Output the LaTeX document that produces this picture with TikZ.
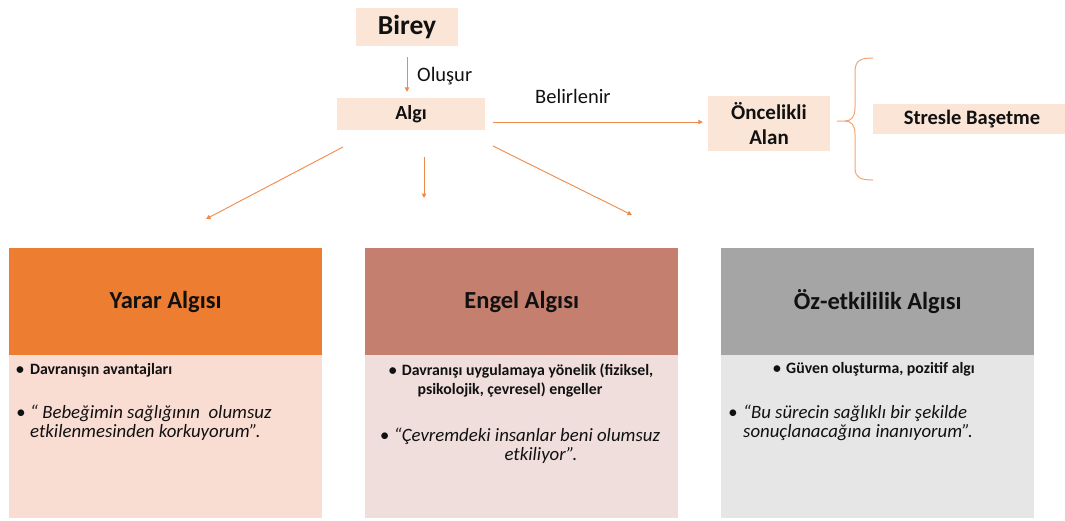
\documentclass[tikz,border=0pt]{standalone}
\usepackage{fontspec}
\setmainfont{Carlito}
\usetikzlibrary{arrows.meta}

\definecolor{peach}{HTML}{FBE5D6}
\definecolor{arrowc}{HTML}{F08A4B}
\definecolor{bracec}{HTML}{F2A673}
\definecolor{headA}{HTML}{ED7D31}
\definecolor{bodyA}{HTML}{F9DCD2}
\definecolor{headB}{HTML}{C47F6F}
\definecolor{bodyB}{HTML}{EFDEDB}
\definecolor{headC}{HTML}{A5A5A5}
\definecolor{bodyC}{HTML}{E6E6E6}
\definecolor{ink}{HTML}{111111}

% bullet followed by a fixed gap before the text
\newcommand\bulgap[1]{\makebox[#1][l]{\textbullet}}

\begin{document}
\begin{tikzpicture}[x=1pt,y=-1pt,
  every node/.style={text=ink},
  topbox/.style={fill=peach, draw=none, inner sep=0pt, align=center},
  arr/.style={draw=arrowc, line width=0.9pt, -{Triangle[length=4.5pt,width=4.5pt]}},
  head/.style={draw=none, inner sep=0pt, anchor=north west,
    minimum width=313pt, minimum height=107pt,
    font=\fontsize{24.5}{29}\selectfont\bfseries},
  body/.style={draw=none, inner sep=0pt, anchor=north west,
    minimum width=313pt, minimum height=163pt},
  pointtxt/.style={inner sep=0pt, font=\fontsize{15.8}{18}\selectfont\bfseries},
  quotetxt/.style={inner sep=0pt, align=left, font=\fontsize{18.8}{19}\selectfont\itshape},
  lbl/.style={inner sep=0pt, anchor=base west, font=\fontsize{20.5}{24}\selectfont}
]
\useasboundingbox[fill=white] (0,0) rectangle (1065,520);

% upper chain
\node[topbox, minimum width=102pt, minimum height=38pt,
      font=\fontsize{27.5}{32}\selectfont\bfseries] (birey) at (407,27) {Birey};
\node[topbox, minimum width=148pt, minimum height=32pt,
      font=\fontsize{20}{24}\selectfont\bfseries] (algi) at (411,114) {Algı};
\node[topbox, minimum width=122pt, minimum height=55pt,
      font=\fontsize{21}{25}\selectfont\bfseries] (onc) at (769,123.5) {Öncelikli\\Alan};
\node[topbox, minimum width=192pt, minimum height=30pt,
      font=\fontsize{20.5}{24}\selectfont\bfseries] (stres) at (969,119)
      {\hspace*{6pt}Stresle Başetme};

\draw[arr, shorten <=11pt, shorten >=6pt] (birey.south) -- (birey.south |- algi.north);
\node[lbl] (olusur) at (417,81) {Oluşur};

\coordinate (lineY) at (0,122);
\draw[arr, shorten <=8pt, shorten >=5pt] (algi.east |- lineY) -- (onc.west |- lineY);
\node[lbl] (belir) at (535,103) {Belirlenir};

% brace gathering towards the coping box
\draw[bracec, line width=1pt]
  (873,58) .. controls (861,58) and (855,60) .. (855,72) -- (855,108)
  .. controls (855,117) and (851,121) .. (845,121) -- (837,121);
\draw[bracec, line width=1pt]
  (845,121) .. controls (851,121) and (855,125) .. (855,134) -- (855,168)
  .. controls (855,178) and (861,180) .. (873,180);

% arrows towards the three perception panels
\coordinate (sL) at (343,147); \coordinate (tL) at (206,219);
\coordinate (sM) at (424,157); \coordinate (tM) at (424,198);
\coordinate (sR) at (493,146); \coordinate (tR) at (632,215);
\draw[arr] (sL) -- (tL);
\draw[arr] (sM) -- (tM);
\draw[arr] (sR) -- (tR);

% panel 1
\node[head, fill=headA] (h1) at (9,248) {Yarar Algısı};
\node[body, fill=bodyA] (b1) at (9,355) {};
\node[pointtxt, anchor=base west] (p1) at (16,374) {\bulgap{14pt}Davranışın avantajları};
\node[quotetxt, anchor=base west] (q1) at (16,437)
  {\bulgap{14pt}“ Bebeğimin sağlığının\ \ olumsuz\\\hspace*{14pt}etkilenmesinden korkuyorum”.};

% panel 2
\node[head, fill=headB] (h2) at (365,248) {Engel Algısı};
\node[body, fill=bodyB] (b2) at (365,355) {};
\node[pointtxt, anchor=base] (p2a) at (521,375) {\bulgap{13pt}Davranışı uygulamaya yönelik (fiziksel,};
\node[pointtxt, anchor=base] (p2b) at (510,394) {psikolojik, çevresel) engeller};
\node[quotetxt, anchor=base] (q2a) at (520,441) {\bulgap{14pt}“Çevremdeki insanlar beni olumsuz};
\node[quotetxt, anchor=base] (q2b) at (541,460) {etkiliyor”.};

% panel 3
\node[head, fill=headC] (h3) at (721,248) {Öz-etkililik Algısı};
\node[body, fill=bodyC] (b3) at (721,355) {};
\node[pointtxt, anchor=base] (p3) at (874,373) {\bulgap{13pt}Güven oluşturma, pozitif algı};
\node[quotetxt, anchor=base west] (q3) at (728,437)
  {\bulgap{15pt}“Bu sürecin sağlıklı bir şekilde\\\hspace*{15pt}sonuçlanacağına inanıyorum”.};
\end{tikzpicture}
\end{document}
